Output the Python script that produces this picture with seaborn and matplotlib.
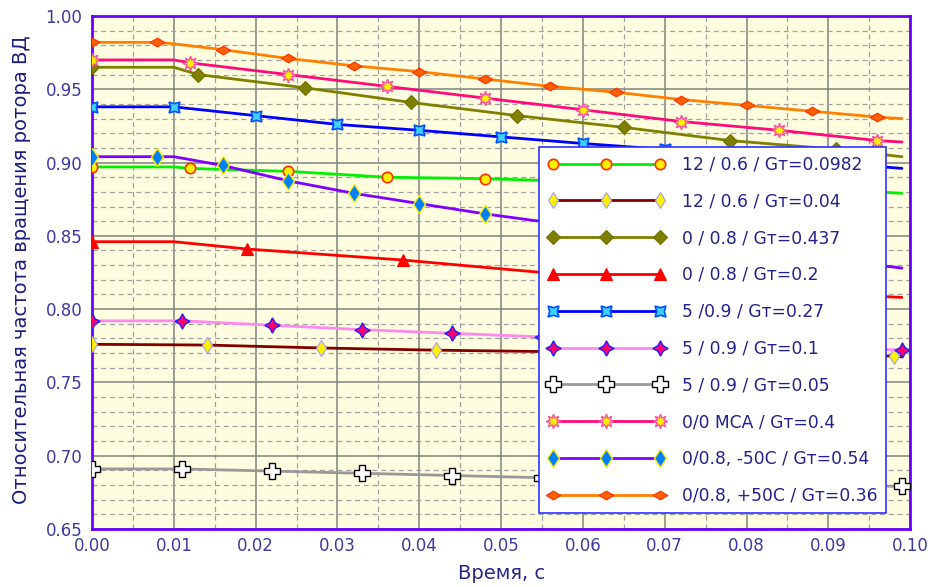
import numpy as np
import pandas as pd
import matplotlib
matplotlib.use("Agg")
import matplotlib.pyplot as plt
import seaborn as sns
from matplotlib.lines import Line2D
from matplotlib.ticker import MultipleLocator, FormatStrFormatter

# ---------------- data ----------------
series_labels = [
    "12 / 0.6 / Gт=0.0982",
    "12 / 0.6 / Gт=0.04",
    "0 / 0.8 / Gт=0.437",
    "0 / 0.8 / Gт=0.2",
    "5 /0.9 / Gт=0.27",
    "5 / 0.9 / Gт=0.1",
    "5 / 0.9 / Gт=0.05",
    "0/0 МСА / Gт=0.4",
    "0/0.8, -50C / Gт=0.54",
    "0/0.8, +50C / Gт=0.36",
]

green_t = [0, 0.010, 0.012, 0.024, 0.036, 0.048, 0.060, 0.072, 0.084, 0.096, 0.099]
green_v = [0.897, 0.897, 0.896, 0.894, 0.890, 0.889, 0.887, 0.885, 0.883, 0.880, 0.879]
green_m = [1, 0, 1, 1, 1, 1, 1, 1, 1, 1, 0]

brown_t = [0, 0.014, 0.028, 0.042, 0.056, 0.070, 0.084, 0.098, 0.099]
brown_v = [0.776, 0.7755, 0.7735, 0.772, 0.771, 0.770, 0.769, 0.768, 0.7675]
brown_m = [1, 1, 1, 1, 1, 1, 1, 1, 0]

olive_t = [0, 0.010, 0.013, 0.026, 0.039, 0.052, 0.065, 0.078, 0.091, 0.099]
olive_v = [0.965, 0.965, 0.960, 0.951, 0.941, 0.932, 0.924, 0.915, 0.909, 0.904]
olive_m = [1, 0, 1, 1, 1, 1, 1, 1, 1, 0]

red_t = [0, 0.010, 0.019, 0.038, 0.057, 0.076, 0.095, 0.099]
red_v = [0.846, 0.846, 0.841, 0.8335, 0.824, 0.816, 0.809, 0.808]
red_m = [1, 0, 1, 1, 1, 1, 1, 0]

blue_t = [0, 0.010, 0.020, 0.030, 0.040, 0.050, 0.060, 0.070, 0.080, 0.090, 0.099]
blue_v = [0.938, 0.938, 0.932, 0.926, 0.922, 0.9175, 0.913, 0.909, 0.905, 0.900, 0.896]
blue_m = [1, 1, 1, 1, 1, 1, 1, 1, 1, 1, 0]

violet_t = [0, 0.011, 0.022, 0.033, 0.044, 0.055, 0.066, 0.077, 0.088, 0.099]
violet_v = [0.792, 0.792, 0.789, 0.786, 0.7835, 0.781, 0.779, 0.777, 0.7745, 0.772]
violet_m = [1, 1, 1, 1, 1, 1, 1, 1, 1, 1]

gray_t = [0, 0.011, 0.022, 0.033, 0.044, 0.055, 0.066, 0.077, 0.088, 0.099]
gray_v = [0.691, 0.691, 0.6895, 0.688, 0.6865, 0.685, 0.6835, 0.682, 0.6805, 0.679]
gray_m = [1, 1, 1, 1, 1, 1, 1, 1, 1, 1]

pink_t = [0, 0.010, 0.012, 0.024, 0.036, 0.048, 0.060, 0.072, 0.084, 0.096, 0.099]
pink_v = [0.970, 0.970, 0.968, 0.960, 0.952, 0.944, 0.936, 0.928, 0.922, 0.915, 0.914]
pink_m = [1, 0, 1, 1, 1, 1, 1, 1, 1, 1, 0]

purple_t = [0, 0.008, 0.010, 0.016, 0.024, 0.032, 0.040, 0.048, 0.056, 0.064, 0.072, 0.080, 0.088, 0.096, 0.099]
purple_v = [0.904, 0.904, 0.904, 0.898, 0.8875, 0.879, 0.872, 0.865, 0.859, 0.853, 0.847, 0.841, 0.836, 0.830, 0.828]
purple_m = [1, 1, 0, 1, 1, 1, 1, 1, 1, 1, 1, 1, 1, 1, 0]

orange_t = [0, 0.008, 0.010, 0.016, 0.024, 0.032, 0.040, 0.048, 0.056, 0.064, 0.072, 0.080, 0.088, 0.096, 0.099]
orange_v = [0.982, 0.982, 0.981, 0.977, 0.971, 0.966, 0.962, 0.957, 0.952, 0.948, 0.943, 0.939, 0.935, 0.931, 0.930]
orange_m = [1, 1, 0, 1, 1, 1, 1, 1, 1, 1, 1, 1, 1, 1, 0]

x_ticks = [0.00, 0.01, 0.02, 0.03, 0.04, 0.05, 0.06, 0.07, 0.08, 0.09, 0.10]
y_ticks = [0.65, 0.70, 0.75, 0.80, 0.85, 0.90, 0.95, 1.00]

# ---------------- styles ----------------
wide_diamond = [(-1, 0), (0, 0.6), (1, 0), (0, -0.6), (-1, 0)]

series = [
    (green_t, green_v, green_m, dict(color="#00F000", marker="o", ms=7.5, mfc="#FFF000", mec="#FF3000", mew=1.2)),
    (brown_t, brown_v, brown_m, dict(color="#800000", marker="d", ms=8.5, mfc="#FFF000", mec="#A0A0FF", mew=0.8)),
    (olive_t, olive_v, olive_m, dict(color="#808000", marker="D", ms=7.5, mfc="#808000", mec="#707000", mew=0.8)),
    (red_t, red_v, red_m, dict(color="#FF0000", marker="^", ms=8.5, mfc="#FF0000", mec="#FF0000", mew=0.8)),
    (blue_t, blue_v, blue_m, dict(color="#0000FF", marker=(4, 1, 45), ms=11, mfc="#40D0FF", mec="#0050FF", mew=1.2)),
    (violet_t, violet_v, violet_m, dict(color="#FF88F0", marker=(4, 1, 0), ms=11, mfc="#FF0070", mec="#2020FF", mew=1.0)),
    (gray_t, gray_v, gray_m, dict(color="#999999", marker="P", ms=11.5, mfc="#FFFFFF", mec="#000000", mew=1.0)),
    (pink_t, pink_v, pink_m, dict(color="#FF0A7A", marker=(8, 1, 0), ms=10.5, mfc="#FFF000", mec="#FF50A0", mew=1.0)),
    (purple_t, purple_v, purple_m, dict(color="#8000FF", marker="d", ms=9.5, mfc="#0080FF", mec="#FFF000", mew=1.0)),
    (orange_t, orange_v, orange_m, dict(color="#FF8000", marker=wide_diamond, ms=10.5, mfc="#FF6000", mec="#FF3000", mew=0.8)),
]

sns.set_style("white")
plt.rcParams["font.family"] = ["DejaVu Sans"]

fig = plt.figure(figsize=(9.35, 5.87), dpi=100)
ax = fig.add_axes([0.0984, 0.0988, 0.875, 0.874])
ax.set_facecolor("#FFFDE0")

handles = []
for (t, v, m, st), lab in zip(series, series_labels):
    df = pd.DataFrame({"t": t, "v": v})
    sns.lineplot(data=df, x="t", y="v", ax=ax, color=st["color"], linewidth=2,
                 marker=st["marker"], markersize=st["ms"],
                 markerfacecolor=st["mfc"], markeredgecolor=st["mec"],
                 markeredgewidth=st["mew"], markevery=[bool(k) for k in m],
                 errorbar=None, estimator=None, sort=False, zorder=3)
    handles.append(Line2D([], [], color=st["color"], linewidth=2, marker=st["marker"],
                          markersize=st["ms"], markerfacecolor=st["mfc"],
                          markeredgecolor=st["mec"], markeredgewidth=st["mew"], label=lab))

ax.set_xlim(0, 0.1)
ax.set_ylim(0.65, 1.0)
ax.set_xticks(x_ticks)
ax.set_yticks(y_ticks)
ax.xaxis.set_major_formatter(FormatStrFormatter("%.2f"))
ax.yaxis.set_major_formatter(FormatStrFormatter("%.2f"))
ax.xaxis.set_minor_locator(MultipleLocator(0.005))
ax.yaxis.set_minor_locator(MultipleLocator(0.01))

ax.grid(which="major", color="#7C867E", linewidth=1.1, linestyle="-", zorder=1)
ax.grid(which="minor", color="#A0A0A0", linewidth=0.9, linestyle=(0, (4, 3)), zorder=1)
ax.set_axisbelow(True)

tick_col = "#3A3AA0"
ax.tick_params(axis="both", which="both", length=0, labelsize=12, colors=tick_col)
ax.tick_params(axis="x", pad=6)
ax.tick_params(axis="y", pad=7)

for sp in ax.spines.values():
    sp.set_color("#6A00FF")
    sp.set_linewidth(2)
    sp.set_visible(True)

ax.set_xlabel("Время, с", fontsize=14, color="#26268C")
ax.set_ylabel("Относительная частота вращения ротора ВД", fontsize=14, color="#1C1C80")
ax.xaxis.label.set_va("center")
ax.yaxis.label.set_va("center")
ax.xaxis.set_label_coords(0.5, -0.086)
ax.yaxis.set_label_coords(-0.0856, 0.505)

leg = ax.legend(handles=handles, loc="upper left", bbox_to_anchor=(0.5465, 0.7446),
                borderaxespad=0, numpoints=3, handlelength=6.85, handletextpad=1.0,
                labelspacing=1.1, fontsize=12.3, frameon=True, fancybox=False,
                borderpad=0.5, labelcolor="#22228A")
leg.get_frame().set_edgecolor("#3030FF")
leg.get_frame().set_linewidth(1.2)
leg.get_frame().set_facecolor("white")
leg.get_frame().set_alpha(1)
leg.set_zorder(10)

fig.savefig("out.png", dpi=100)
